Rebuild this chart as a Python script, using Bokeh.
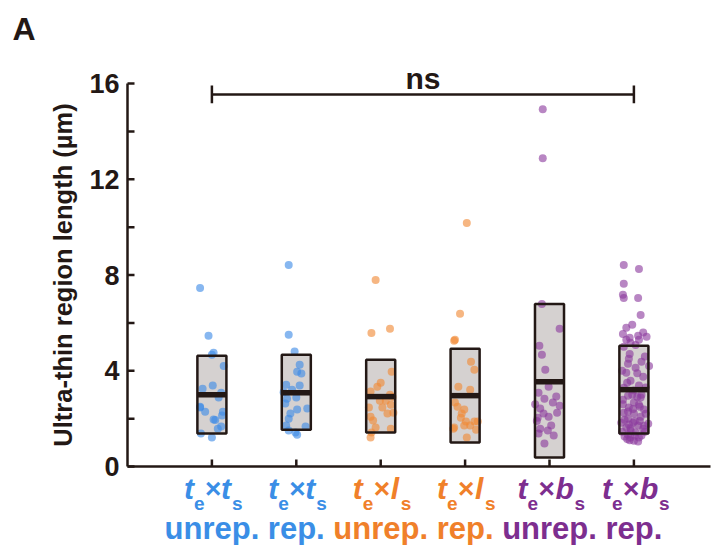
import math
from bokeh.plotting import figure
from bokeh.models import Range1d
from bokeh.core.properties import value
from bokeh.embed import file_html
from bokeh.resources import INLINE

# ---------------- data ----------------
positions = [1, 2, 3, 4, 5, 6]
first_letter = ["t", "t", "t", "t", "t", "t"]
second_letter = ["t", "t", "l", "l", "b", "b"]
line2 = ["unrep.", "rep.", "unrep.", "rep.", "unrep.", "rep."]
text_colors = ["#3a8ee6", "#3a8ee6", "#f0802a", "#f0802a", "#7d2e8f", "#7d2e8f"]
point_colors = ["#3d8be6", "#3d8be6", "#f08935", "#f08935", "#8c3c9e", "#8c3c9e"]

box_top = [4.63, 4.67, 4.46, 4.92, 6.79, 5.04]
box_bottom = [1.38, 1.54, 1.42, 1.00, 0.38, 1.38]
median = [3.00, 3.08, 2.92, 2.96, 3.54, 3.21]

y1 = [7.46, 5.46, 4.75, 4.67, 4.2, 3.25, 3.38, 3.08, 2.88, 2.46, 2.29, 2.29, 2.13, 1.96, 1.94, 1.67, 1.58, 1.38, 1.21, 2.5]
dx1 = [-0.14, -0.04, 0.02, 0.0, 0.14, -0.11, 0.01, 0.11, 0.08, -0.14, -0.08, 0.13, 0.12, 0.02, 0.04, 0.11, 0.07, -0.13, 0.0, -0.14]

y2 = [8.42, 5.5, 4.8, 4.25, 3.96, 3.88, 3.42, 3.38, 3.21, 2.83, 2.88, 2.63, 2.42, 2.38, 2.21, 2.0, 1.71, 1.67, 1.5, 1.33, 1.42, 3.1]
dx2 = [-0.09, -0.09, -0.02, 0.04, 0.01, 0.06, -0.12, 0.04, -0.05, -0.11, 0.0, -0.13, 0.13, 0.01, -0.07, -0.09, -0.12, 0.11, -0.09, 0.01, -0.01, -0.15]

y3 = [7.79, 5.75, 5.58, 3.96, 3.5, 3.33, 3.13, 3.0, 2.75, 2.75, 2.58, 2.46, 2.46, 2.21, 2.25, 2.08, 1.92, 1.63, 1.58, 1.42, 1.21, 2.9]
dx3 = [-0.06, 0.11, -0.11, 0.13, 0.0, -0.04, -0.12, 0.11, -0.01, 0.06, 0.12, -0.14, 0.02, 0.08, 0.15, -0.12, -0.09, -0.06, 0.12, -0.11, -0.12, 0.14]

y4 = [10.17, 6.38, 5.29, 5.25, 4.38, 4.04, 3.33, 3.21, 2.67, 2.5, 2.38, 2.21, 2.04, 1.88, 1.88, 1.88, 1.71, 1.71, 1.63, 1.54, 1.21, 1.58]
dx4 = [0.02, -0.06, -0.12, -0.13, 0.07, 0.11, -0.08, 0.06, -0.12, -0.09, -0.01, -0.04, -0.05, 0.01, 0.11, 0.15, -0.01, 0.06, -0.13, 0.13, 0.02, -0.14]

y5 = [14.92, 12.88, 6.79, 5.75, 5.04, 4.67, 4.04, 3.33, 3.08, 2.92, 2.83, 2.67, 2.54, 2.42, 2.21, 2.25, 2.08, 2.04, 1.71, 1.58, 1.5, 1.38, 1.29, 0.96, 2.6, 1.9]
dx5 = [-0.08, -0.08, -0.09, 0.12, -0.12, -0.09, -0.05, -0.01, -0.13, 0.08, -0.06, 0.04, 0.12, -0.11, -0.07, 0.09, -0.01, -0.14, 0.02, -0.11, -0.02, -0.13, 0.05, -0.06, -0.17, -0.15]

y6 = [8.42, 8.25, 7.63, 7.17, 7.04, 7.04, 6.33, 5.92, 5.54, 5.46, 5.42, 5.38, 5.29, 5.29, 5.17, 5.08, 5.0,
      4.5, 4.38, 4.29, 4.13, 3.92, 3.75, 3.58, 3.38, 3.29, 3.17, 2.96, 2.88, 2.79, 2.67, 2.58, 2.46, 2.38, 2.25, 2.21, 2.08,
      2.0, 1.79, 1.83, 1.83, 1.71, 1.63, 1.58, 1.5, 1.42, 1.33, 1.21, 1.08, 1.04, 1.21,
      3.0, 3.5, 3.9, 4.7, 4.6, 4.0, 2.4, 2.2, 1.95, 1.9, 1.75, 1.45, 1.45, 1.3, 1.15, 1.3, 1.6, 2.9, 2.6, 3.3,
      3.0, 2.3, 2.5, 1.9, 1.7, 1.25, 1.1, 5.6, 5.8, 4.2]
dx6 = [-0.12, 0.06, -0.12, -0.13, -0.12, 0.05, 0.08, -0.02, -0.13, 0.05, 0.15, -0.05, -0.09, 0.06, -0.04, 0.02, -0.12,
       -0.06, 0.09, -0.07, 0.02, -0.09, 0.11, -0.04, 0.06, -0.12, 0.0, -0.07, 0.08, -0.13, 0.0, 0.06, -0.06, 0.12, -0.12, 0.0, 0.08,
       -0.07, 0.17, -0.15, -0.01, 0.05, -0.09, 0.11, -0.04, 0.02, -0.07, 0.06, 0.0, 0.05, -0.04,
       0.09, -0.08, 0.04, -0.05, 0.13, -0.14, -0.01, 0.14, -0.11, 0.07, -0.06, 0.13, -0.14, 0.01, -0.08, 0.09, -0.04, 0.04, -0.13, 0.14,
       -0.02, -0.07, 0.07, 0.01, 0.12, -0.11, -0.05, 0.11, -0.09, 0.18]

group_values = [y1, y2, y3, y4, y5, y6]
group_jitter = [dx1, dx2, dx3, dx4, dx5, dx6]

y_ticks = [0, 4, 8, 12, 16]
y_tick_labels = ["0", "4", "8", "12", "16"]
y_minor_ticks = [2, 6, 10, 14]
y_max = 16
bracket_level = 15.54
bracket_tick_low = 15.17
bracket_tick_high = 15.92
sig_text = "ns"
y_label = "Ultra-thin region length (\u00b5m)"
panel_letter = "A"

# ---------------- layout / style ----------------
INK = "#231815"
FONT = "Liberation Sans"
BOX_HALF = 0.172
W, H = 716, 545
AX_X = 127          # y-axis position (px)
AX_Y = 466          # x-axis position (px)
AX_RIGHT = 710
UNIT_PX = 84.4      # px per category step
PPU_Y = (466 - 83) / 16.0
MID = 0.35          # text "middle" sits this many em above the baseline


def dxp(px):
    return (px - AX_X) / UNIT_PX


def dyp(py):
    return (AX_Y - py) / PPU_Y


def mid_y(baseline_px, size):
    return dyp(baseline_px - MID * size)


p = figure(width=W, height=H, x_range=Range1d(dxp(0), dxp(W)), y_range=Range1d(dyp(H), dyp(0)),
           output_backend="svg", toolbar_location=None,
           min_border_left=0, min_border_right=0, min_border_top=0, min_border_bottom=0)
p.axis.visible = False
p.grid.visible = False
p.outline_line_color = None

# ---- axes (drawn on the plot's own scales)
x_end = dxp(AX_RIGHT)
p.segment(x0=[0], x1=[0], y0=[0], y1=[y_max], line_color=INK, line_width=2.5)
p.segment(x0=[0], x1=[x_end], y0=[0], y1=[0], line_color=INK, line_width=2.5)
all_y_ticks = sorted(y_ticks + y_minor_ticks)
tick_len_x = 7 / UNIT_PX
tick_len_y = 7 / PPU_Y
p.segment(x0=[0] * len(all_y_ticks), x1=[tick_len_x] * len(all_y_ticks), y0=all_y_ticks, y1=all_y_ticks,
          line_color=INK, line_width=2.5)
p.segment(x0=positions, x1=positions, y0=[0] * len(positions), y1=[tick_len_y] * len(positions),
          line_color=INK, line_width=2.5)
p.text(x=[0] * len(y_ticks), y=y_ticks, text=y_tick_labels, x_offset=-8, text_align="right",
       text_baseline="middle", text_font=value(FONT), text_font_style="bold", text_font_size="27px",
       text_color=INK)
p.text(x=[dxp(62)], y=[y_max / 2], text=[y_label], angle=math.pi / 2, text_align="center",
       text_baseline="middle", text_font=value(FONT), text_font_style="bold", text_font_size="25.5px",
       text_color=INK)

# ---- boxes and points
lefts = [c - BOX_HALF for c in positions]
rights = [c + BOX_HALF for c in positions]
p.quad(left=lefts, right=rights, top=box_top, bottom=box_bottom, fill_color="#d5d1d0", line_color=None)

for c, vals, jit, col in zip(positions, group_values, group_jitter, point_colors):
    xs = [c + d for d in jit]
    p.scatter(x=xs, y=vals, size=8, fill_color=col, fill_alpha=0.62, line_color=None)

p.quad(left=lefts, right=rights, top=box_top, bottom=box_bottom, fill_color=None, line_color=INK, line_width=2.5)
p.segment(x0=lefts, x1=rights, y0=median, y1=median, line_color=INK, line_width=5.5, line_cap="butt")

# ---- significance bracket
p.segment(x0=[positions[0]], x1=[positions[-1]], y0=[bracket_level], y1=[bracket_level],
          line_color=INK, line_width=2.5)
p.segment(x0=[positions[0], positions[-1]], x1=[positions[0], positions[-1]],
          y0=[bracket_tick_low] * 2, y1=[bracket_tick_high] * 2, line_color=INK, line_width=2.5)
p.text(x=[(positions[0] + positions[-1]) / 2], y=[mid_y(88, 30)], text=[sig_text], text_align="center",
       text_baseline="middle", text_font=value(FONT), text_font_style="bold", text_font_size="30px",
       text_color=INK)

# ---- panel letter
p.text(x=[dxp(12)], y=[mid_y(40, 32)], text=[panel_letter], text_align="left", text_baseline="middle",
       text_font=value(FONT), text_font_style="bold", text_font_size="32px", text_color=INK)

# ---- category labels
MAIN_SIZE, SUB_SIZE, LINE2_SIZE = 30, 19, 31
base1 = mid_y(498, MAIN_SIZE)
base_sub = mid_y(510, SUB_SIZE)
base2 = mid_y(539, LINE2_SIZE)
layouts = {"t": (-28, -18, -7, 9, 20), "l": (-28, -18, -7, 10, 20), "b": (-32, -22, -11, 6, 25)}
for c, a, b, l2, col in zip(positions, first_letter, second_letter, line2, text_colors):
    o1, oe, ox, o2, os_ = layouts[b]
    parts = [(a, o1, base1, "bold italic", MAIN_SIZE),
             ("e", oe, base_sub, "bold", SUB_SIZE),
             ("\u00d7", ox, base1, "bold", MAIN_SIZE - 2),
             (b, o2, base1, "bold italic", MAIN_SIZE),
             ("s", os_, base_sub, "bold", SUB_SIZE)]
    for txt, xo, yy, sty, size in parts:
        p.text(x=[c], y=[yy], x_offset=xo, text=[txt], text_align="left", text_baseline="middle",
               text_font=value(FONT), text_font_style=sty, text_font_size=f"{size}px", text_color=col)
    p.text(x=[c], y=[base2], text=[l2], text_align="center", text_baseline="middle",
           text_font=value(FONT), text_font_style="bold", text_font_size=f"{LINE2_SIZE}px", text_color=col)

open("out.html", "w").write(file_html(p, INLINE))
